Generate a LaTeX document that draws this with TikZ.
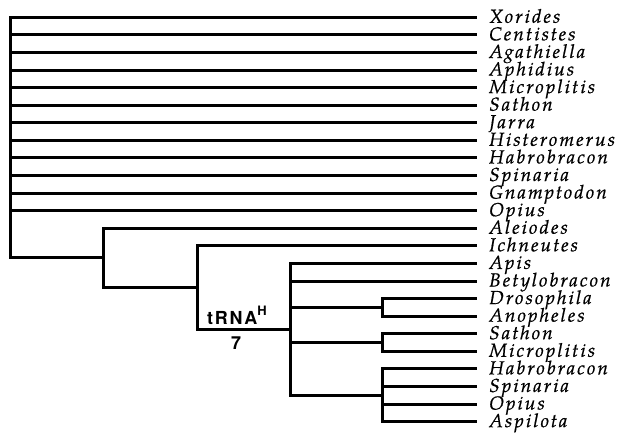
\documentclass[tikz,border=0pt]{standalone}
\usepackage{fontspec}
\setmainfont{TeX Gyre Pagella}
\newfontfamily\heavysans[LetterSpace=10]{TeX Gyre Heros}
\newcommand\taxfont{\fontsize{19}{19}\selectfont\itshape\addfontfeatures{LetterSpace=11,FakeBold=0.6}}
\begin{document}
\begin{tikzpicture}[x=1bp,y=-1bp,
  branch/.style={line width=3bp,line join=miter},
  taxon/.style={anchor=base west,inner sep=0pt,font=\taxfont},
  marker/.style={anchor=base,inner sep=0pt,font=\heavysans\bfseries\fontsize{18}{18}\selectfont}]
\useasboundingbox (0,0) rectangle (618,432);

% leaf tips and taxon names
\foreach \name [count=\i from 0] in {Xorides,Centistes,Agathiella,Aphidius,Microplitis,Sathon,Jarra,Histeromerus,Habrobracon,Spinaria,Gnamptodon,Opius,Aleiodes,Ichneutes,Apis,Betylobracon,Drosophila,Anopheles,Sathon,Microplitis,Habrobracon,Spinaria,Opius,Aspilota}{
  \pgfmathsetmacro\yy{17.3+17.58*\i}
  \coordinate (t\i) at (477,\yy);
  \node[taxon] (n\i) at (489,\yy+5.5) {\name};
}

% internal nodes
\coordinate (root) at (10.5,137.6);
\coordinate (cA) at (103,257.7);
\coordinate (cB) at (197,287.5);
\coordinate (cC) at (290,329.4);
\coordinate (cD) at (382,307.4);
\coordinate (cS) at (382,342.6);
\coordinate (cH) at (382,395.3);

% root polytomy
\foreach \i in {0,...,11}{\draw[branch] (root) |- (t\i);}
\draw[branch] (root) |- (cA);
% nested clades
\draw[branch] (cA) |- (t12);
\draw[branch] (cA) |- (cB);
\draw[branch] (cB) |- (t13);
\draw[branch] (cB) |- (cC);
\draw[branch] (cC) |- (t14);
\draw[branch] (cC) |- (t15);
\draw[branch] (cC) |- (cD);
\draw[branch] (cC) |- (cS);
\draw[branch] (cC) |- (cH);
\draw[branch] (cD) |- (t16);
\draw[branch] (cD) |- (t17);
\draw[branch] (cS) |- (t18);
\draw[branch] (cS) |- (t19);
\foreach \i in {20,...,23}{\draw[branch] (cH) |- (t\i);}

% branch annotation
\node[marker,anchor=base west] (trna) at (207,324) {tRNA\raisebox{9bp}{\fontsize{13}{13}\selectfont H}};
\node[marker] (count) at (236,349) {7};
\end{tikzpicture}
\end{document}
